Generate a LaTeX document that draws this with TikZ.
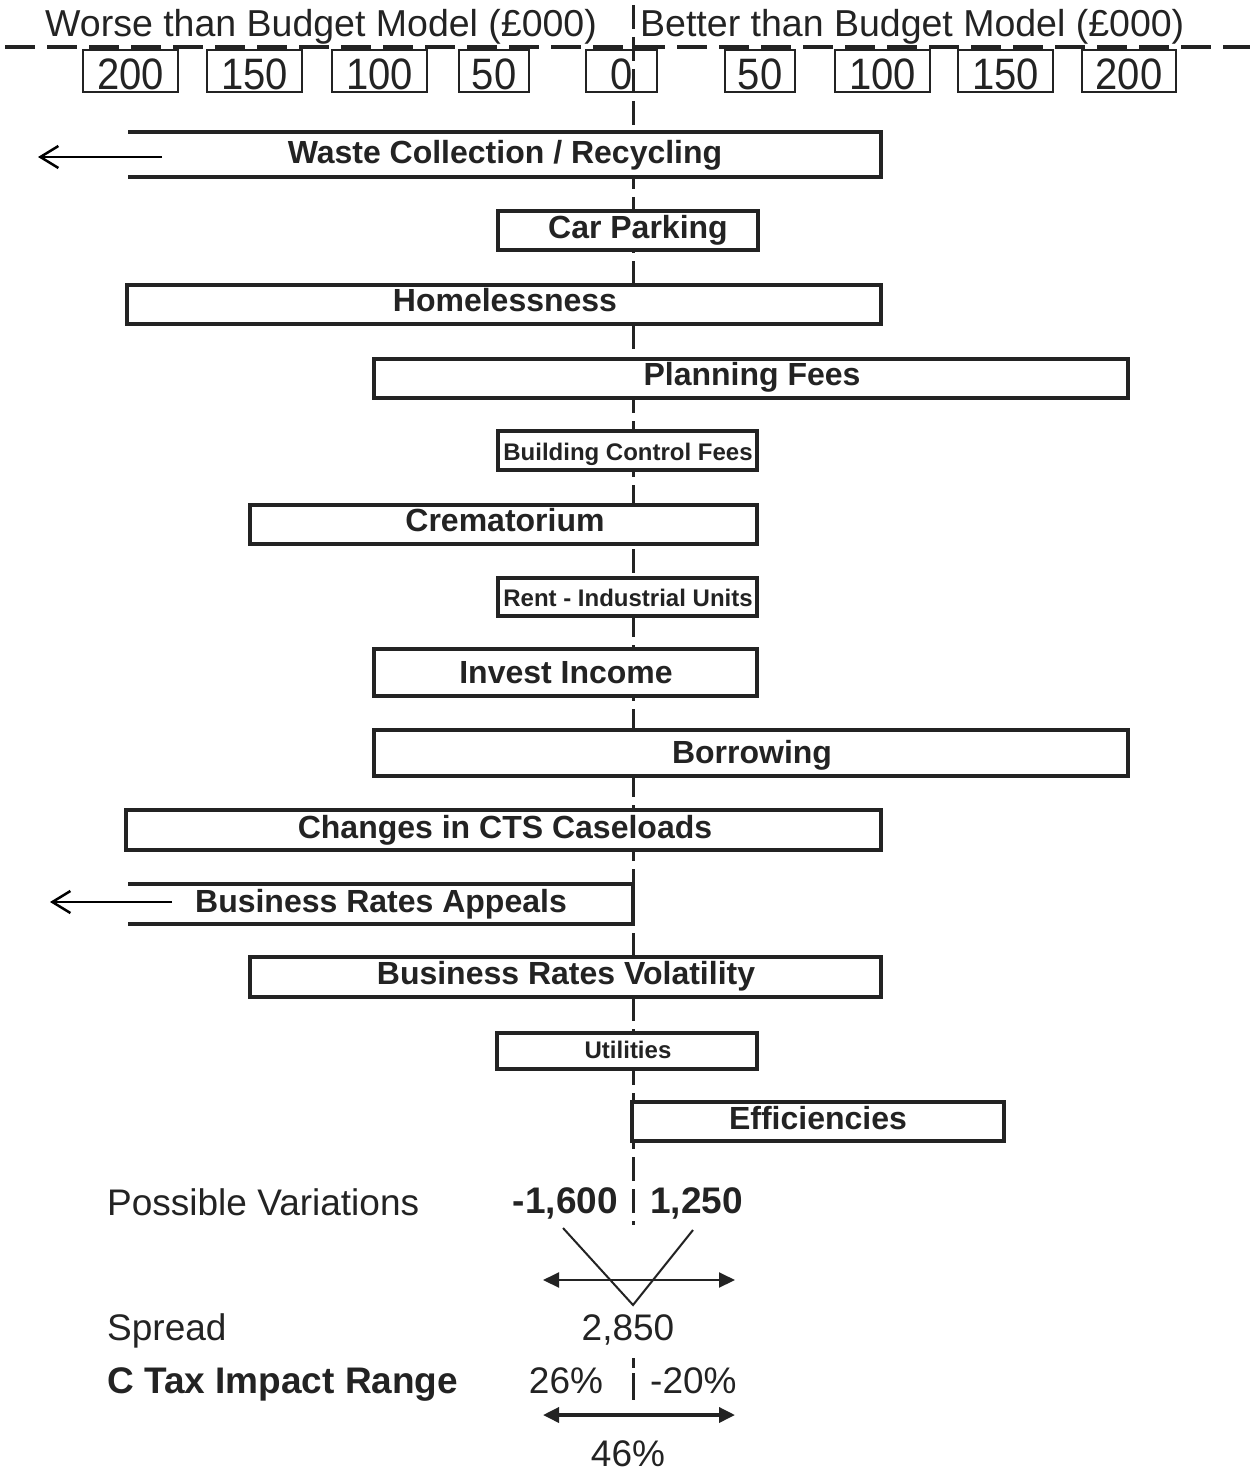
\documentclass[tikz,border=0pt]{standalone}
\usepackage{fontspec}
\setmainfont{Liberation Sans}
\usetikzlibrary{arrows.meta}
\definecolor{ink}{RGB}{35,35,35}
\newcommand{\fhead}{\fontsize{37.5pt}{40pt}\selectfont}
\newcommand{\fnum}{\fontsize{40pt}{42pt}\selectfont}
\newcommand{\fbig}{\fontsize{32pt}{34pt}\selectfont\bfseries}
\newcommand{\fsmall}{\fontsize{24pt}{26pt}\selectfont\bfseries}
\newcommand{\fbot}{\fontsize{37pt}{39pt}\selectfont}
\begin{document}
\begin{tikzpicture}[x=1pt,y=-1pt,
  txt/.style={inner sep=0pt, anchor=base, text=ink},
  barbox/.style={draw=ink, line width=3.5pt, fill=white},
  scalebox/.style={draw=ink, line width=2pt},
  centreline/.style={draw=ink, line width=3pt, dash pattern=on 24pt off 8pt},
  topline/.style={draw=ink, line width=4pt, dash pattern=on 30pt off 12pt},
  outarrow/.style={draw=black, line width=2.5pt, -{Straight Barb[length=18pt,width=22pt,line width=2.5pt]}},
  dbl/.style={draw=ink, {Triangle[length=16pt,width=15pt]}-{Triangle[length=16pt,width=15pt]}},
]
\useasboundingbox (0,0) rectangle (1250,1474);

% central dashed line and top dashed line
\coordinate (ctop) at (633,5);
\coordinate (cbot) at (633,1225);
\draw[centreline] (ctop) -- (cbot);
\coordinate (hl) at (5,47);
\coordinate (hr) at (1250,47);
\draw[topline] (hl) -- (hr);

% header
\node[txt, anchor=base west] (worse) at (45,37) {\fhead Worse than Budget Model (£000)};
\node[txt, anchor=base west] (better) at (640,37) {\fhead Better than Budget Model (£000)};

% scale boxes
\foreach \n/\a/\b/\t in {s1/83/178/200, s2/207/302/150, s3/332/427/100, s4/459/529/50, s5/586/657/0,
                         s6/725/795/50, s7/835/930/100, s8/958/1053/150, s9/1082/1176/200}{
  \draw[scalebox] (\a,50) rectangle (\b,92);
  \node[txt, yscale=1.1] (\n) at ({(\a+\b)/2},90) {\fnum \t};
}

% bars
% Waste collection (open left)
\draw[barbox] (128,132) -- (881,132) -- (881,177) -- (128,177);
\node[txt] (waste) at (505,164) {\fbig Waste Collection / Recycling};
\coordinate (wa1) at (162,157);
\coordinate (wa2) at (38,157);
\draw[outarrow] (wa1) -- (wa2);

\draw[barbox] (498,211) rectangle (758,250);
\node[txt] (car) at (638,238) {\fbig Car Parking};

\draw[barbox] (127,285) rectangle (881,324);
\node[txt] (home) at (505,311) {\fbig Homelessness};

\draw[barbox] (374,359) rectangle (1128,398);
\node[txt] (plan) at (752,385) {\fbig Planning Fees};

\draw[barbox] (498,431) rectangle (757,470);
\node[txt] (bcf) at (628,460) {\fsmall Building Control Fees};

\draw[barbox] (250,505) rectangle (757,544);
\node[txt] (crem) at (505,531) {\fbig Crematorium};

\draw[barbox] (498,578) rectangle (757,616);
\node[txt] (rent) at (628,606) {\fsmall Rent - Industrial Units};

\draw[barbox] (374,649) rectangle (757,696);
\node[txt] (inv) at (566,683) {\fbig Invest Income};

\draw[barbox] (374,730) rectangle (1128,776);
\node[txt] (borr) at (752,763) {\fbig Borrowing};

\draw[barbox] (126,810) rectangle (881,850);
\node[txt] (cts) at (505,838) {\fbig Changes in CTS Caseloads};

% Business rates appeals (open left)
\draw[barbox] (128,884) -- (633,884) -- (633,924) -- (128,924);
\node[txt] (bra) at (381,912) {\fbig Business Rates Appeals};
\coordinate (ba1) at (172,902);
\coordinate (ba2) at (50,902);
\draw[outarrow] (ba1) -- (ba2);

\draw[barbox] (250,957) rectangle (881,997);
\node[txt] (brv) at (566,984) {\fbig Business Rates Volatility};

\draw[barbox] (497,1033) rectangle (757,1069);
\node[txt] (util) at (628,1058) {\fsmall Utilities};

\draw[barbox] (632,1102) rectangle (1004,1141);
\node[txt] (eff) at (818,1129) {\fbig Efficiencies};

% bottom summary
\node[txt, anchor=base west] (posv) at (107,1215) {\fbot Possible Variations};
\node[txt, anchor=base east] (neg) at (618,1213) {\fbot\bfseries -1,600};
\node[txt, anchor=base west] (pos) at (650,1213) {\fbot\bfseries 1,250};
\coordinate (vl) at (563,1228);
\coordinate (vm) at (633,1305);
\coordinate (vr) at (693,1230);
\draw[draw=ink, line width=2pt] (vl) -- (vm) -- (vr);
\coordinate (a1l) at (543,1280);
\coordinate (a1r) at (735,1280);
\draw[dbl, line width=2pt] (a1l) -- (a1r);

\node[txt, anchor=base west] (spread) at (107,1340) {\fbot Spread};
\node[txt] (sp) at (628,1340) {\fbot 2,850};

\coordinate (c2t) at (633,1358);
\coordinate (c2b) at (633,1400);
\draw[centreline, dash pattern=on 10pt off 5pt on 27pt off 10pt] (c2t) -- (c2b);
\node[txt, anchor=base west] (ctax) at (107,1393) {\fbot\bfseries C Tax Impact Range};
\node[txt] (p26) at (566,1393) {\fbot 26\%};
\node[txt, anchor=base west] (m20) at (650,1393) {\fbot -20\%};
\coordinate (a2l) at (543,1415);
\coordinate (a2r) at (735,1415);
\draw[dbl, line width=3.5pt] (a2l) -- (a2r);
\node[txt] (p46) at (628,1466) {\fbot 46\%};
\end{tikzpicture}
\end{document}
